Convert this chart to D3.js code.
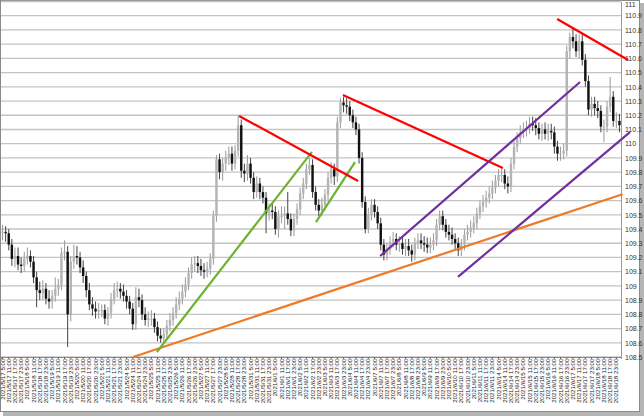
<!DOCTYPE html>
<html><head><meta charset="utf-8">
<script src="https://cdn.jsdelivr.net/npm/d3@7"></script>
<style>body{margin:0;background:#fff}svg{display:block}</style>
</head><body>
<svg id="c" width="644" height="416"></svg>
<script>
const days = ["2021/5/17","2021/5/18","2021/5/19","2021/5/20","2021/5/21",
  "2021/5/24","2021/5/25","2021/5/26","2021/5/27","2021/5/28",
  "2021/5/31","2021/6/1","2021/6/2","2021/6/3","2021/6/4",
  "2021/6/7","2021/6/8","2021/6/9","2021/6/10","2021/6/11",
  "2021/6/14","2021/6/15","2021/6/16","2021/6/17","2021/6/18"];
const hours = ["5:00","11:00","17:00","23:00"];
const yTicks = [108.5,108.6,108.7,108.8,108.9,109,109.1,109.2,109.3,109.4,109.5,109.6,109.7,109.8,109.9,110,110.1,110.2,110.3,110.4,110.5,110.6,110.7,110.8,110.9,111];

const open = [109.375,109.38,109.37,109.29,109.19,109.21,109.15,109.14,109.19,109.21,
109.17,109.06,108.97,108.95,108.98,108.91,108.89,108.93,108.98,109.01,
109.23,109.24,108.80,109.17,109.21,109.20,109.13,109.07,108.97,108.87,
108.84,108.82,108.83,108.83,108.77,108.81,108.91,108.97,108.98,108.96,
108.93,108.89,108.84,108.73,108.92,108.90,108.80,108.76,108.77,108.77,
108.71,108.65,108.63,108.66,108.72,108.76,108.81,108.87,108.91,108.96,
109.01,109.09,109.15,109.16,109.14,109.11,109.10,109.12,109.19,109.49,
109.89,109.80,109.86,109.90,109.93,109.86,109.95,110.13,109.81,109.79,
109.86,109.76,109.66,109.72,109.66,109.62,109.51,109.53,109.52,109.40,
109.49,109.49,109.51,109.47,109.39,109.47,109.54,109.65,109.72,109.82,
109.85,109.66,109.57,109.53,109.57,109.64,109.76,109.82,109.77,110.15,
110.29,110.27,110.26,110.20,110.15,110.10,109.90,109.59,109.40,109.50,
109.57,109.52,109.44,109.29,109.22,109.26,109.31,109.33,109.29,109.30,
109.26,109.28,109.25,109.22,109.30,109.32,109.30,109.29,109.27,109.29,
109.32,109.43,109.49,109.43,109.38,109.36,109.33,109.30,109.25,109.29,
109.36,109.38,109.41,109.44,109.51,109.56,109.59,109.62,109.65,109.69,
109.74,109.78,109.78,109.72,109.70,109.86,109.98,110.04,110.08,110.10,
110.11,110.14,110.13,110.11,110.07,110.10,110.07,110.09,110.08,109.98,
109.93,109.93,109.95,110.65,110.75,110.72,110.65,110.72,110.59,110.44,
110.24,110.28,110.25,110.23,110.12,110.12,110.26,110.33,110.16,110.16];
const close = [109.38,109.37,109.29,109.19,109.21,109.15,109.14,109.19,109.21,109.17,
109.06,108.97,108.95,108.98,108.91,108.89,108.93,108.98,109.01,109.23,
109.24,108.80,109.17,109.21,109.20,109.13,109.07,108.97,108.87,108.84,
108.82,108.83,108.83,108.77,108.81,108.91,108.97,108.98,108.96,108.93,
108.89,108.84,108.73,108.92,108.90,108.80,108.76,108.77,108.77,108.71,
108.65,108.63,108.66,108.72,108.76,108.81,108.87,108.91,108.96,109.01,
109.09,109.15,109.16,109.14,109.11,109.10,109.12,109.19,109.49,109.89,
109.80,109.86,109.90,109.93,109.86,109.95,110.13,109.81,109.79,109.86,
109.76,109.66,109.72,109.66,109.62,109.51,109.53,109.52,109.40,109.49,
109.49,109.51,109.47,109.39,109.47,109.54,109.65,109.72,109.82,109.85,
109.66,109.57,109.53,109.57,109.64,109.76,109.82,109.77,110.15,110.29,
110.27,110.26,110.20,110.15,110.10,109.90,109.59,109.40,109.50,109.57,
109.52,109.44,109.29,109.22,109.26,109.31,109.33,109.29,109.30,109.26,
109.28,109.25,109.22,109.30,109.32,109.30,109.29,109.27,109.29,109.32,
109.43,109.49,109.43,109.38,109.36,109.33,109.30,109.25,109.29,109.36,
109.38,109.41,109.44,109.51,109.56,109.59,109.62,109.65,109.69,109.74,
109.78,109.78,109.72,109.70,109.86,109.98,110.04,110.08,110.10,110.11,
110.14,110.13,110.11,110.07,110.10,110.07,110.09,110.08,109.98,109.93,
109.93,109.95,110.65,110.75,110.72,110.65,110.72,110.59,110.44,110.24,
110.28,110.25,110.23,110.12,110.12,110.26,110.33,110.16,110.16,110.13];
const high = [109.43,109.42,109.40,109.33,109.27,109.27,109.20,109.24,109.27,109.25,
109.21,109.10,109.03,109.04,109.02,108.97,108.97,109.06,109.05,109.27,
109.32,109.28,109.21,109.29,109.28,109.24,109.18,109.10,109.02,108.92,
108.89,108.88,108.87,108.87,108.85,108.95,109.02,109.03,109.02,109.01,
108.97,108.93,108.88,108.99,108.98,108.94,108.85,108.82,108.83,108.81,
108.75,108.70,108.70,108.76,108.81,108.85,108.92,108.96,109.01,109.06,
109.13,109.20,109.21,109.21,109.19,109.16,109.17,109.23,109.53,109.92,
109.93,109.90,109.95,109.98,109.98,109.99,110.20,110.17,109.86,109.92,
109.90,109.80,109.77,109.76,109.70,109.66,109.58,109.58,109.56,109.53,
109.56,109.56,109.66,109.51,109.51,109.58,109.69,109.76,109.86,109.90,
109.89,109.70,109.61,109.62,109.68,109.80,109.87,109.86,110.19,110.32,
110.33,110.32,110.30,110.24,110.19,110.14,109.94,109.63,109.55,109.61,
109.61,109.56,109.48,109.33,109.30,109.35,109.38,109.37,109.35,109.35,
109.33,109.33,109.29,109.34,109.37,109.37,109.35,109.34,109.34,109.37,
109.47,109.53,109.53,109.47,109.43,109.41,109.37,109.34,109.33,109.40,
109.43,109.46,109.49,109.55,109.60,109.64,109.67,109.70,109.74,109.78,
109.82,109.84,109.82,109.77,109.90,110.02,110.08,110.13,110.15,110.16,
110.19,110.19,110.18,110.15,110.14,110.15,110.14,110.14,110.12,110.02,
109.98,110.00,110.69,110.78,110.81,110.77,110.77,110.77,110.63,110.48,
110.33,110.33,110.30,110.27,110.17,110.30,110.47,110.37,110.22,110.21];
const low = [109.32,109.31,109.25,109.14,109.13,109.11,109.09,109.10,109.15,109.13,
109.02,108.85,108.90,108.90,108.87,108.84,108.84,108.89,108.93,108.97,
109.18,108.57,108.75,109.12,109.15,109.09,109.02,108.92,108.83,108.79,
108.77,108.77,108.78,108.73,108.72,108.77,108.87,108.92,108.91,108.89,
108.84,108.80,108.69,108.69,108.85,108.76,108.72,108.71,108.72,108.67,
108.61,108.60,108.60,108.62,108.68,108.72,108.77,108.83,108.87,108.92,
108.97,109.05,109.10,109.09,109.07,109.05,109.06,109.08,109.15,109.45,
109.75,109.74,109.81,109.85,109.81,109.82,109.91,109.76,109.73,109.74,
109.72,109.61,109.62,109.61,109.58,109.37,109.46,109.47,109.36,109.34,
109.44,109.40,109.43,109.35,109.35,109.43,109.50,109.61,109.68,109.78,
109.62,109.53,109.49,109.49,109.53,109.60,109.72,109.71,109.73,110.11,
110.22,110.21,110.16,110.11,110.06,109.86,109.55,109.37,109.37,109.46,
109.48,109.40,109.25,109.18,109.18,109.22,109.27,109.25,109.24,109.22,
109.21,109.21,109.17,109.18,109.26,109.26,109.24,109.23,109.23,109.25,
109.28,109.39,109.39,109.34,109.32,109.29,109.26,109.21,109.21,109.25,
109.32,109.34,109.37,109.40,109.47,109.52,109.55,109.58,109.61,109.65,
109.70,109.73,109.68,109.65,109.66,109.82,109.94,110.00,110.04,110.05,
110.07,110.09,110.06,110.03,110.02,110.03,110.02,110.03,109.93,109.88,
109.88,109.89,109.91,110.60,110.67,110.61,110.60,110.55,110.40,110.20,
110.19,110.20,110.18,110.08,110.01,110.08,110.22,110.12,110.11,110.08];

// trend lines: [candle index, price] endpoints
const redLines = [[[76.3,110.195],[114.7,109.738]], [[109.8,110.342],[161.4,109.829]], [[178.9,110.877],[201.8,110.589]]];
const greenLines = [[[49.8,108.535],[99.8,109.942]], [[101.1,109.449],[113.7,109.871]]];
const purpleLines = [[[121.8,109.210],[186.3,110.434]], [[146.9,109.063],[202.4,110.082]]];
const orangeLines = [[[42.1,108.5],[200.0,109.645]]];

const labels = [];
days.forEach(d => hours.forEach(h => labels.push(d + " " + h)));

const svg = d3.select("#c");
const plotL = 1, plotR = 621, plotT = 1.5, plotB = 357;
const n = open.length;
const x = d3.scaleBand().domain(d3.range(n)).range([plotL, plotR]).paddingInner(0.22).paddingOuter(0.11);
const xc = i => x(i) + x.bandwidth() / 2;
const y = d3.scaleLinear().domain([108.5, 111]).range([plotB, plotT]);

// frame + shadow
svg.append("rect").attr("x",3).attr("y",412).attr("width",641).attr("height",4).attr("fill","#b5b5b5");
svg.append("rect").attr("x",640).attr("y",3).attr("width",4).attr("height",413).attr("fill","#b5b5b5");
svg.append("rect").attr("x",0.5).attr("y",0.5).attr("width",639).attr("height",411).attr("fill","#fff").attr("stroke","#8a8a8a");

// grid
svg.append("g").selectAll("line").data(yTicks).join("line")
  .attr("x1", plotL).attr("x2", plotR)
  .attr("y1", d => y(d)).attr("y2", d => y(d))
  .attr("stroke", "#c4c4c4").attr("stroke-width", 1.3);

// right axis
const yAxis = d3.axisRight(y).tickValues(yTicks).tickSize(0).tickPadding(4).tickFormat(d => String(+d.toFixed(1)));
const ya = svg.append("g").attr("transform", `translate(${plotR},0)`).call(yAxis);
ya.select(".domain").attr("stroke", "#9a9a9a");
ya.selectAll("text").attr("font-family", "'Liberation Sans', Arial, sans-serif").attr("font-size", 7).attr("fill", "#333")
  .attr("dy", d => d === 111 ? "0.75em" : "0.32em");

// bottom axis
const xa = svg.append("g").attr("transform", `translate(0,${plotB})`)
  .call(d3.axisBottom(x).tickValues(d3.range(0, n, 2)).tickSize(2).tickFormat(i => labels[i / 2]));
xa.select(".domain").attr("stroke", "#8a8a8a");
xa.selectAll(".tick line").attr("stroke", "#666");
xa.selectAll("text")
  .attr("font-family", "'Liberation Sans', Arial, sans-serif").attr("font-size", 6.2).attr("fill", "#222")
  .attr("transform", "rotate(-90)").attr("text-anchor", "end").attr("dx", "-1.5").attr("dy", "0.33em").attr("x", 0).attr("y", 0);

// candles
const cg = svg.append("g");
cg.selectAll("line").data(d3.range(n)).join("line")
  .attr("x1", i => xc(i)).attr("x2", i => xc(i))
  .attr("y1", i => y(high[i])).attr("y2", i => y(low[i]))
  .attr("stroke", i => close[i] >= open[i] ? "#999" : "#444").attr("stroke-width", 1);
cg.selectAll("rect").data(d3.range(n)).join("rect")
  .attr("x", i => x(i)).attr("width", x.bandwidth())
  .attr("y", i => y(Math.max(open[i], close[i])))
  .attr("height", i => Math.max(1, Math.abs(y(open[i]) - y(close[i]))))
  .attr("fill", i => close[i] >= open[i] ? "#b4b4b4" : "#111");

// trend lines
const lineGen = d3.line().x(d => xc(0) + (xc(1) - xc(0)) * d[0]).y(d => y(d[1]));
const addLines = (arr, col) => svg.append("g").selectAll("path").data(arr).join("path")
  .attr("d", lineGen).attr("fill", "none").attr("stroke", col).attr("stroke-width", 2.2);
addLines(orangeLines, "#ee7b27");
addLines(greenLines, "#6eb32f");
addLines(redLines, "#ff0000");
addLines(purpleLines, "#7030a0");
</script>
</body></html>
